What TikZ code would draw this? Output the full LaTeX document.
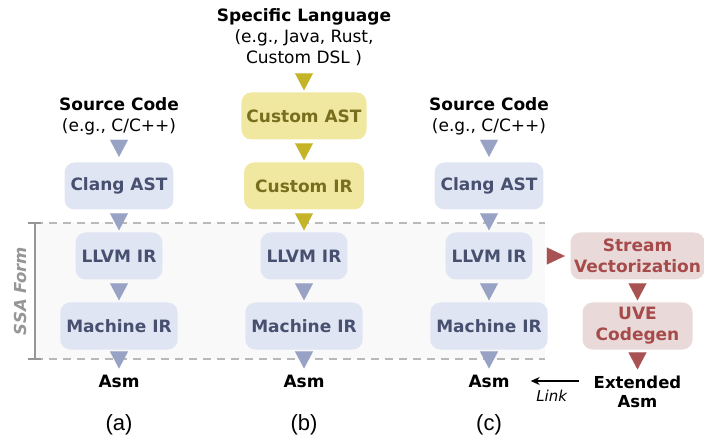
\documentclass[tikz,border=0pt]{standalone}
\usepackage{fontspec}
\setmainfont{DejaVu Sans}
\newfontfamily\capfont{Liberation Sans}
\usetikzlibrary{arrows.meta}
\definecolor{blFill}{RGB}{223,229,243}
\definecolor{blText}{RGB}{72,80,112}
\definecolor{blTri}{RGB}{152,162,196}
\definecolor{ylFill}{RGB}{240,232,160}
\definecolor{ylText}{RGB}{120,110,30}
\definecolor{ylTri}{RGB}{198,180,40}
\definecolor{rdFill}{RGB}{233,217,217}
\definecolor{rdText}{RGB}{166,74,74}
\definecolor{rdTri}{RGB}{168,82,82}
\definecolor{ssaGray}{RGB}{150,150,150}
\definecolor{ssaDash}{RGB}{185,185,185}
\definecolor{ssaBg}{RGB}{249,249,249}
\tikzset{
    base/.style={font=\fontsize{17}{21}\selectfont, align=center},
    title/.style={base, inner sep=2pt, text=black},
    stage/.style={base, rectangle, rounded corners=10pt, inner xsep=6pt,
                  minimum height=47pt, font=\fontsize{17}{21}\selectfont\bfseries},
    clang/.style={stage, fill=blFill, text=blText},
    cust/.style={stage, fill=ylFill, text=ylText, inner xsep=5pt, minimum width=120pt},
    uve/.style={stage, fill=rdFill, text=rdText},
    caption/.style={font=\capfont\fontsize{22}{26}\selectfont, inner sep=2pt},
    flow/.style={-{Triangle[width=18pt,length=17pt]}, line width=0.01pt,
                 shorten <=4pt, shorten >=2pt},
    blFlow/.style={flow, draw=blTri},
    ylFlow/.style={flow, draw=ylTri},
    rdFlow/.style={flow, draw=rdTri},
    fromText/.style={shorten <=3.5pt, shorten >=5.5pt},
    toText/.style={shorten <=2.5pt, shorten >=4pt},
    ssaLine/.style={draw=ssaDash, line width=1.5pt, dash pattern=on 8pt off 6pt},
    bracket/.style={draw=ssaGray, line width=1.5pt},
    ssaLabel/.style={font=\fontsize{16.5}{19}\selectfont\bfseries\itshape, text=ssaGray},
    link/.style={-{Stealth[length=9pt,width=8pt]}, line width=1.3pt, black}
}
\begin{document}
\begin{tikzpicture}[x=1pt, y=1pt, node distance=70pt]
  \useasboundingbox (0,0) rectangle (704,442);

  % SSA region
  \fill[ssaBg] (35,83) rectangle (545,219);
  \draw[ssaLine] (35,219) -- (545,219);
  \draw[ssaLine] (35,83) -- (545,83);
  \draw[bracket] (28,219) -- (41,219) (35,219) -- (35,83) (28,83) -- (41,83);
  \node[ssaLabel, rotate=90] (SSA) at (20,151) {SSA Form};

  % Column (a): Clang
  \node[clang] (LlvmA) at (119,186) {LLVM IR};
  \node[clang, above of=LlvmA] (ClangA) {Clang AST};
  \node[title, above of=ClangA] (SrcA) {\textbf{Source Code}\\(e.g., C/C++)};
  \node[clang, below of=LlvmA] (MirA) {Machine IR};
  \node[title, below of=MirA, node distance=55pt] (AsmA) {\textbf{Asm}};
  \node[caption, below of=AsmA, node distance=44pt] (CapA) {(a)};

  % Column (b): custom front end
  \node[clang, right of=LlvmA, node distance=185pt] (LlvmB) {LLVM IR};
  \node[cust, above of=LlvmB] (CirB) {Custom IR};
  \node[cust, above of=CirB] (CastB) {Custom AST};
  \node[title, above of=CastB, node distance=79pt] (LangB)
       {\textbf{Specific Language}\\(e.g., Java, Rust,\\Custom DSL )};
  \node[clang, below of=LlvmB] (MirB) {Machine IR};
  \node[title, below of=MirB, node distance=55pt] (AsmB) {\textbf{Asm}};
  \node[caption, below of=AsmB, node distance=44pt] (CapB) {(b)};

  % Column (c): Clang + UVE
  \node[clang, right of=LlvmB, node distance=185pt] (LlvmC) {LLVM IR};
  \node[clang, above of=LlvmC] (ClangC) {Clang AST};
  \node[title, above of=ClangC] (SrcC) {\textbf{Source Code}\\(e.g., C/C++)};
  \node[clang, below of=LlvmC] (MirC) {Machine IR};
  \node[title, below of=MirC, node distance=55pt] (AsmC) {\textbf{Asm}};
  \node[caption, below of=AsmC, node distance=44pt] (CapC) {(c)};

  % UVE side branch
  \node[uve, right of=LlvmC, node distance=148.5pt, inner xsep=3.5pt] (StrV) {Stream\\Vectorization};
  \node[uve, below of=StrV, minimum width=110pt] (UveC) {UVE\\Codegen};
  \node[title, below of=UveC, node distance=66pt, font=\fontsize{16.5}{19}\selectfont]
       (ExtAsm) {\textbf{Extended}\\\textbf{Asm}};

  % Arrows
  \draw[blFlow, fromText] (SrcA) -- (ClangA);
  \draw[blFlow] (ClangA) -- (LlvmA);
  \draw[blFlow] (LlvmA) -- (MirA);
  \draw[blFlow, toText] (MirA) -- (AsmA);
  \draw[ylFlow, shorten <=5pt, shorten >=2pt] (LangB) -- (CastB);
  \draw[ylFlow] (CastB) -- (CirB);
  \draw[ylFlow] (CirB) -- (LlvmB);
  \draw[blFlow] (LlvmB) -- (MirB);
  \draw[blFlow, toText] (MirB) -- (AsmB);
  \draw[blFlow, fromText] (SrcC) -- (ClangC);
  \draw[blFlow] (ClangC) -- (LlvmC);
  \draw[blFlow] (LlvmC) -- (MirC);
  \draw[blFlow, toText] (MirC) -- (AsmC);
  \draw[rdFlow, -{Triangle[width=17pt,length=18pt]}, shorten <=18pt, shorten >=5.5pt]
       (LlvmC) -- (StrV);
  \draw[rdFlow] (StrV) -- (UveC);
  \draw[rdFlow, shorten <=2.5pt, shorten >=4.5pt] (UveC) -- (ExtAsm);
  \draw[link, shorten <=13pt, shorten >=19pt] (ExtAsm.west |- AsmC.east) --
       node[below, yshift=-5pt, font=\fontsize{15}{18}\selectfont\itshape] (LinkLbl) {Link}
       (AsmC.east);
\end{tikzpicture}
\end{document}
